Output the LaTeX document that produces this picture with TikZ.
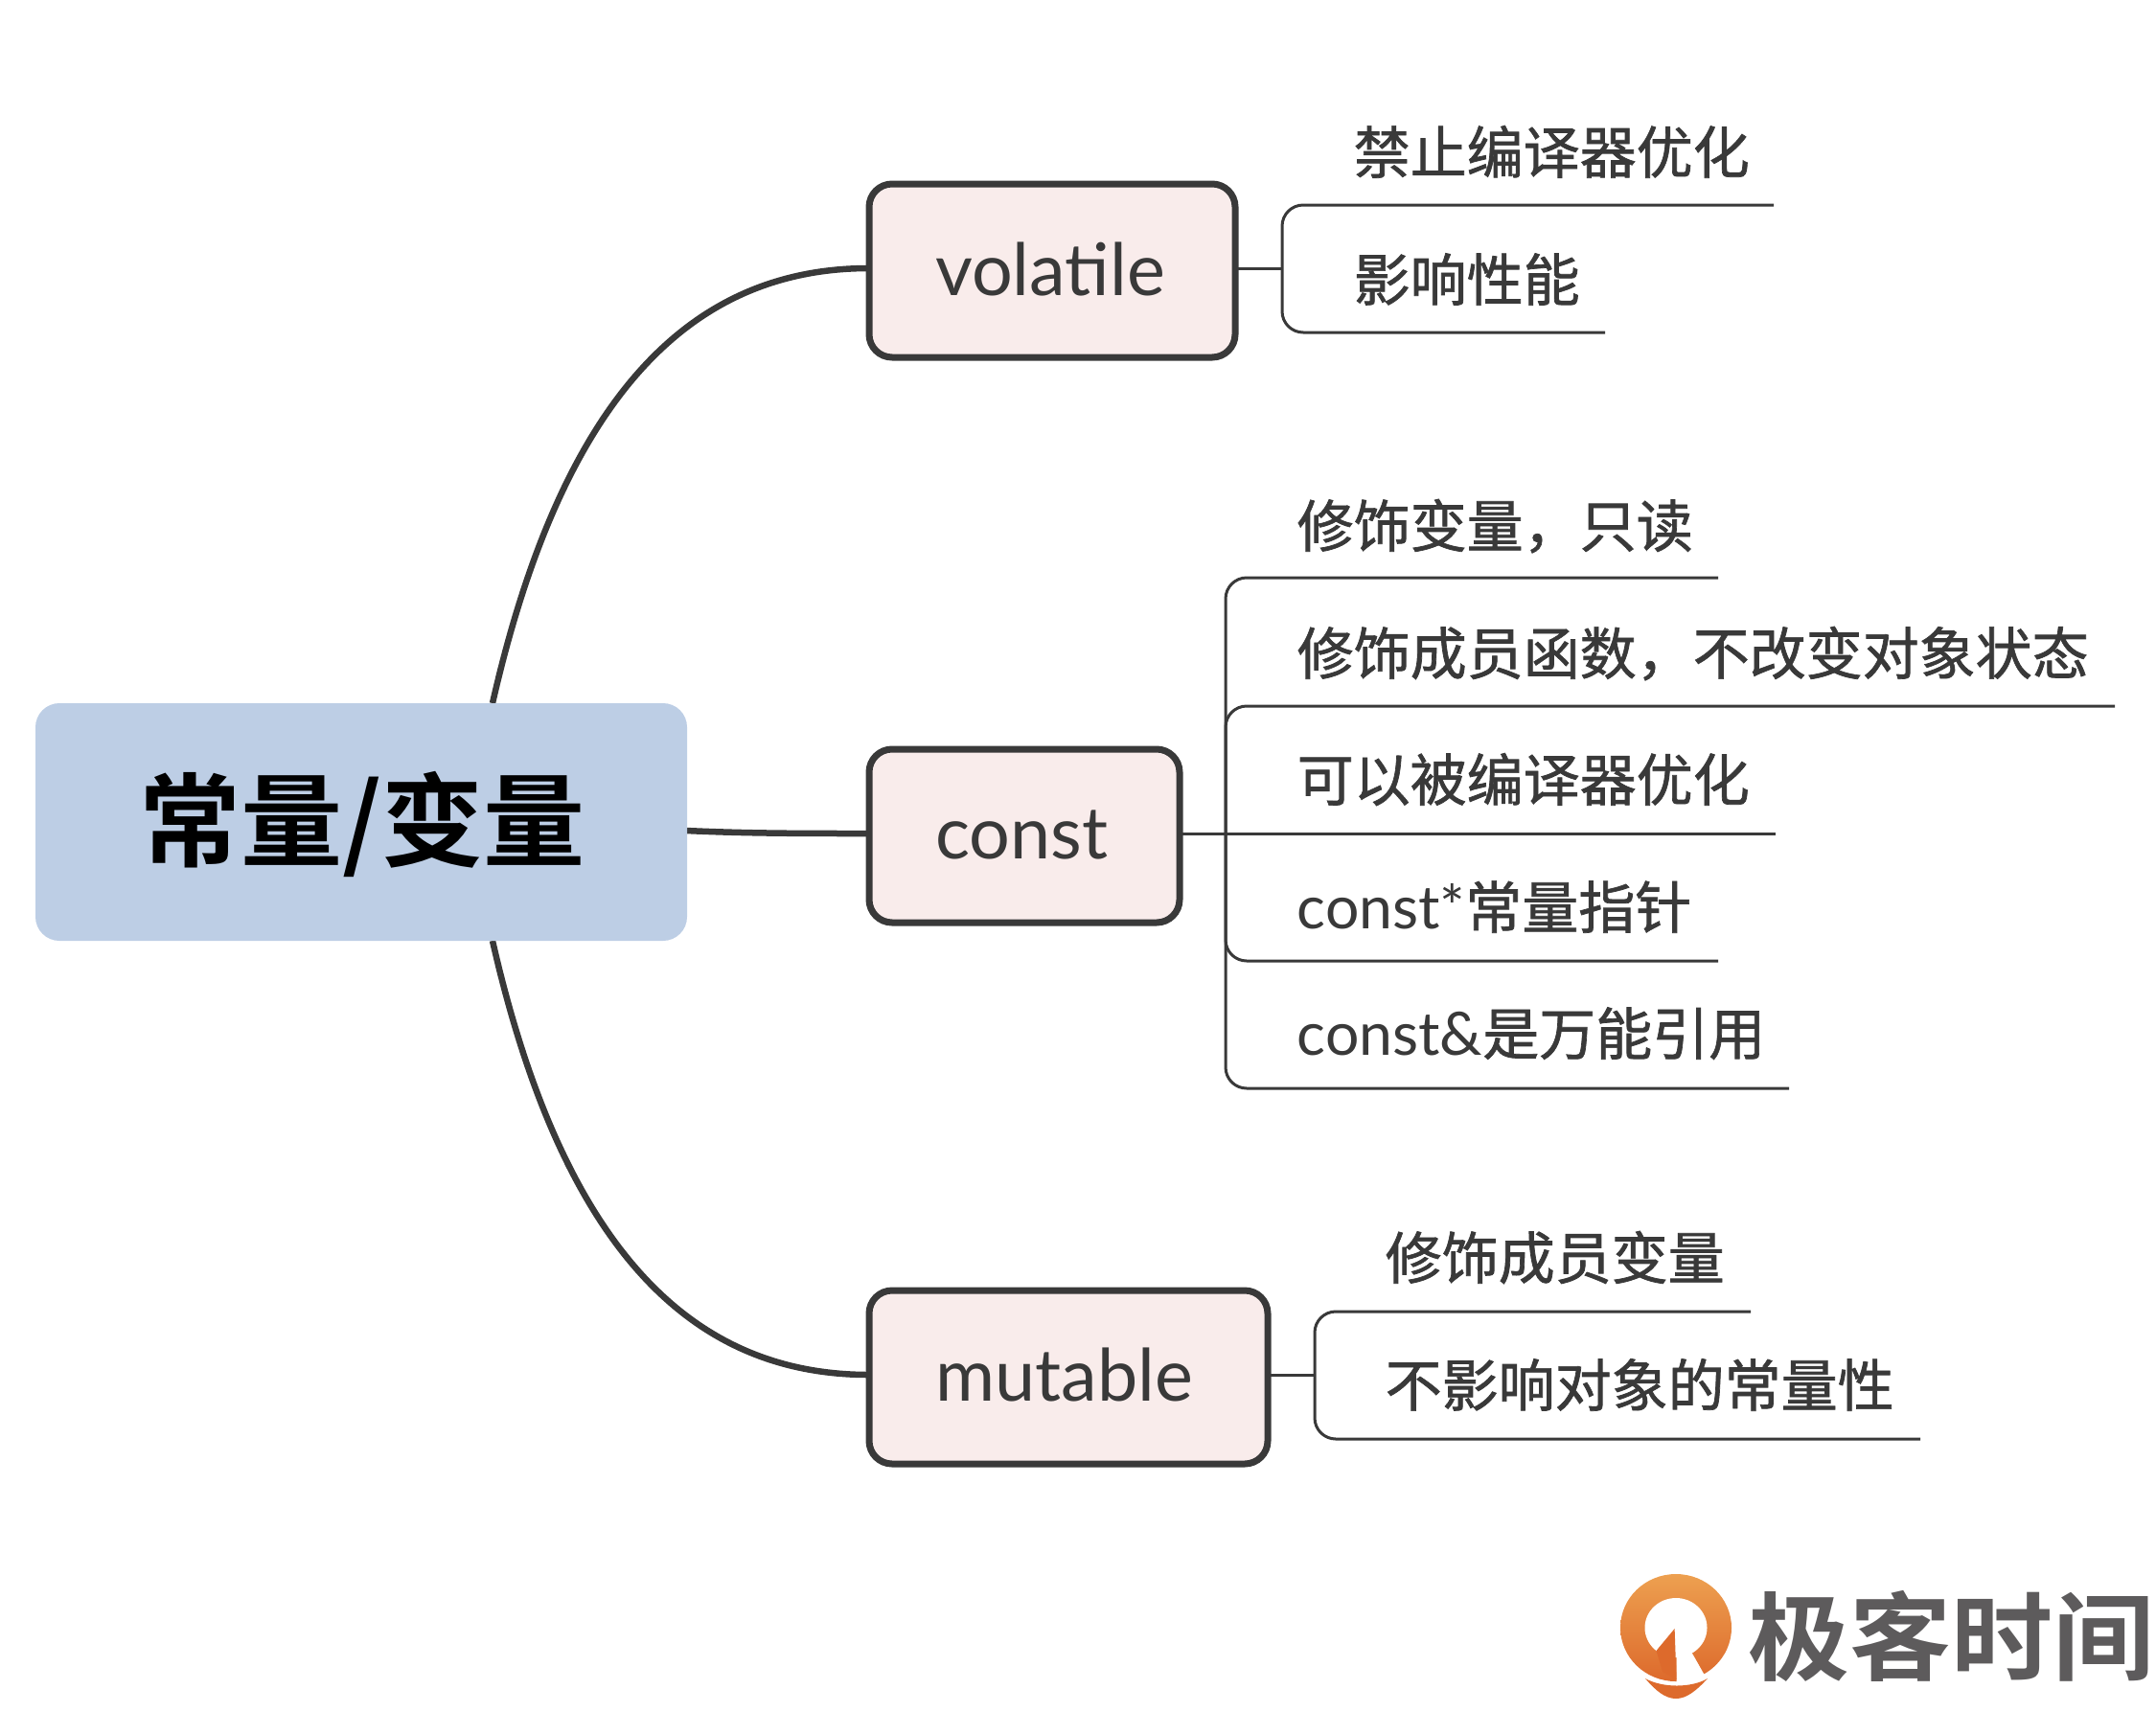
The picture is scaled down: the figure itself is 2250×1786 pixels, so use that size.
\documentclass[tikz,border=0pt]{standalone}
\usepackage{fontspec}
\setmainfont{Lato}
\newfontfamily\cjkm[FakeBold=1.2]{Noto Sans CJK SC}
\newfontfamily\cjkb{Noto Sans CJK SC Bold}
\newfontfamily\cjkl[FakeStretch=1.06]{Noto Sans CJK SC Bold}
\newcommand{\smalltxt}{\fontsize{62.5}{66}\selectfont}
\newcommand{\cn}[1]{{\fontsize{59}{64}\selectfont\cjkm #1}}
\definecolor{ink}{HTML}{393939}
\definecolor{boxfill}{HTML}{F9ECEB}
\definecolor{rootfill}{HTML}{BDCEE5}
\definecolor{logotxt}{HTML}{5D5B5C}
\definecolor{logotop}{HTML}{EDA050}
\definecolor{logobot}{HTML}{DD6A2C}
\tikzset{
  x=1pt,y=-1pt,
  rootbox/.style={fill=rootfill,rounded corners=25pt,inner sep=0pt,outer sep=0pt,anchor=north west},
  topic/.style={draw=ink,line width=7pt,fill=boxfill,rounded corners=24pt,inner sep=0pt,outer sep=0pt,anchor=north west},
  biglink/.style={draw=ink,line width=6.5pt},
  leaf/.style={draw=ink,line width=3pt,rounded corners=22pt},
  stem/.style={draw=ink,line width=3pt},
  txt/.style={anchor=base west,inner sep=0pt,text=ink,font=\smalltxt},
  lab/.style={anchor=base west,inner sep=0pt,text=ink,font=\fontsize{75.5}{80}\selectfont},
}
\begin{document}
\begin{tikzpicture}
\useasboundingbox (0,0) rectangle (2250,1786);
% curved links, behind the nodes
\coordinate (rt) at (514,734);
\coordinate (rb) at (514,982);
\coordinate (re) at (716,867);
\node[topic,minimum width=382pt,minimum height=181pt] (vol) at (907,192) {};
\node[topic,minimum width=324pt,minimum height=181pt] (con) at (907,782) {};
\node[topic,minimum width=416pt,minimum height=181pt] (mut) at (907,1347) {};
\draw[biglink] (rt) .. controls (590,400) and (730,280) .. ([yshift=2.5pt]vol.west);
\draw[biglink] (rb) .. controls (590,1316) and (730,1435) .. ([yshift=2.5pt]mut.west);
\draw[biglink] (re) .. controls (780,870) and (840,870) .. ([yshift=2.5pt]con.west);
\node[rootbox,minimum width=680pt,minimum height=248pt] (root) at (37,734) {};
\node[anchor=base west,inner sep=0pt,text=black] (roott) at (145,896) {\fontsize{106}{110}\selectfont\cjkb 常量/变量};
\node[lab] (volt) at (976,308) {volatile};
\node[lab] (cont) at (976,896) {const};
\node[lab] (mutt) at (976,1462) {mutable};
% volatile branch
\coordinate (v1) at (1851,214);
\coordinate (v2) at (1675,347);
\draw[leaf] (v1) -- (1338,214) -- (1338,347) -- (v2);
\draw[stem] ([yshift=2.5pt]vol.east) -- (1338,280);
\node[txt] (a1) at (1412.5,181) {\cn{禁止编译器优化}};
\node[txt] (a2) at (1412.5,314) {\cn{影响性能}};
% const branch
\coordinate (c1) at (1793,603);
\coordinate (c2) at (2207,737);
\coordinate (c3) at (1853,870);
\coordinate (c4) at (1793,1003);
\coordinate (c5) at (1867,1136);
\draw[leaf] (c1) -- (1279,603) -- (1279,1136) -- (c5);
\draw[leaf] (c2) -- (1279,737) -- (1279,870);
\draw[leaf] (c4) -- (1279,1003) -- (1279,870);
\draw[stem] ([yshift=2.5pt]con.east) -- (c3);
\node[txt] (b1) at (1353.5,571) {\cn{修饰变量，只读}};
\node[txt] (b2) at (1353.5,704) {\cn{修饰成员函数，不改变对象状态}};
\node[txt] (b3) at (1353.5,836) {\cn{可以被编译器优化}};
\node[txt] (b4) at (1353.5,969) {const*\cn{常量指针}};
\node[txt] (b5) at (1353.5,1101) {const\&\cn{是万能引用}};
% mutable branch
\coordinate (m1) at (1827,1369);
\coordinate (m2) at (2004,1502);
\draw[leaf] (m1) -- (1372,1369) -- (1372,1502) -- (m2);
\draw[stem] ([yshift=2.5pt]mut.east) -- (1372,1435);
\node[txt] (d1) at (1445.5,1335) {\cn{修饰成员变量}};
\node[txt] (d2) at (1445.5,1468) {\cn{不影响对象的常量性}};
% logo
\shade[top color=logotop,bottom color=logobot] (1749,1699) ellipse (58 and 56);
\fill[white] (1749,1699) ellipse (32.5 and 31);
\fill[white] (1749.5,1700) -- (1749.5,1762) -- (1790,1762) -- (1778,1747) -- (1766.7,1727) -- cycle;
\fill[logobot] (1728.5,1723) -- (1747.6,1700) -- (1749.5,1753) -- (1735,1745) -- cycle;
\fill[logobot] (1717,1752) .. controls (1735,1762) and (1765,1762) .. (1782,1752) .. controls (1770,1765) and (1760,1773) .. (1749,1773) .. controls (1738,1773) and (1728,1765) .. (1717,1752) -- cycle;
\node[anchor=base west,inner sep=0pt,text=logotxt] (logo) at (1824,1746) {\fontsize{100}{104}\selectfont\cjkl 极客时间};
\end{tikzpicture}
\end{document}
